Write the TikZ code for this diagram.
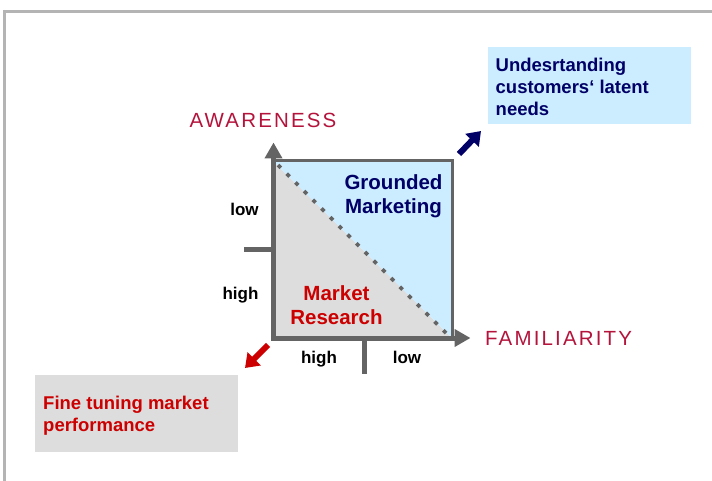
\documentclass[tikz,border=0pt]{standalone}
\usepackage{fontspec}
\setmainfont{Liberation Sans}
\usetikzlibrary{arrows.meta}
\definecolor{framegray}{RGB}{180,180,180}
\definecolor{axisgray}{RGB}{100,100,100}
\definecolor{navy}{RGB}{0,0,102}
\definecolor{mred}{RGB}{204,0,0}
\definecolor{crimson}{RGB}{180,20,60}
\definecolor{lblue}{RGB}{204,236,255}
\definecolor{lgray}{RGB}{221,221,221}
\tikzset{
  axis/.style={draw=axisgray, line width=5pt, -{Triangle[length=16pt,width=17pt]}},
  tick/.style={draw=axisgray, line width=5pt},
  edge/.style={draw=axisgray, line width=3pt},
  axlabel/.style={text=crimson, font=\fontsize{20.5}{22}\selectfont\addfontfeature{LetterSpace=10.5}, inner sep=0pt},
  lvl/.style={font=\bfseries\fontsize{17}{20}\selectfont, inner sep=0pt},
  zone/.style={font=\bfseries\fontsize{20.5}{24.5}\selectfont, align=center, inner sep=0pt},
  box/.style={font=\bfseries\fontsize{18.5}{22}\selectfont, align=left, anchor=north west, inner sep=0pt},
  fatarrow/.style={line width=6pt, -{Triangle[length=13pt,width=18pt]}},
}
\begin{document}
\begin{tikzpicture}[x=1pt,y=-1pt]
\useasboundingbox (0,0) rectangle (712,481);
% frame
\draw[framegray, line width=2.5pt] (4.3,481) -- (4.3,11.3) -- (712,11.3);
% square regions
\fill[lgray] (273,161) -- (452,338) -- (273,338) -- cycle;
\fill[lblue] (273,161) -- (452,161) -- (452,338) -- cycle;
\draw[axisgray, line width=3.8pt, dash pattern=on 4pt off 8.3pt] (278,165) -- (450,337);
\draw[edge] (272,161) -- (452,161) -- (452,339);
% axes
\coordinate (ytip) at (273.5,142.5);
\coordinate (xtip) at (470.5,338);
\coordinate (ybase) at (273.5,340.5);
\coordinate (xbase) at (271,338);
\draw[axis] (ybase) -- (ytip);
\draw[axis] (xbase) -- (xtip);
% ticks
\coordinate (lt1) at (244,249);
\coordinate (lt2) at (273,249);
\draw[tick] (lt1) -- (lt2);
\coordinate (bt1) at (364,338);
\coordinate (bt2) at (364,374);
\draw[tick] (bt1) -- (bt2);
% axis labels
\node[axlabel, anchor=base west] (aw) at (189.5,127.5) {AWARENESS};
\node[axlabel, anchor=base west] (fam) at (485,345) {FAMILIARITY};
% level labels
\node[lvl, anchor=base] (low1) at (244.5,215) {low};
\node[lvl, anchor=base] (high1) at (240.5,299) {high};
\node[lvl, anchor=base] (high2) at (319,363) {high};
\node[lvl, anchor=base] (low2) at (407,363) {low};
% zones
\node[zone, text=navy] (gm) at (393.5,196) {Grounded\\Marketing};
\node[zone, text=mred] (mr) at (336.5,305) {Market\\Research};
% boxes
\node[fill=lblue, minimum width=203pt, minimum height=77pt, anchor=north west, inner sep=0pt] (ub) at (488,47) {};
\node[box, text=navy] (ubt) at (495.5,57.5) {Undesrtanding\\customers‘ latent\\needs};
\node[fill=lgray, minimum width=203pt, minimum height=77pt, anchor=north west, inner sep=0pt] (fb) at (35,375) {};
\node[box, text=mred] (fbt) at (43,395.5) {Fine tuning market\\performance};
% arrows
\coordinate (na1) at (459,154);
\coordinate (na2) at (481,131);
\draw[fatarrow, navy] (na1) -- (na2);
\coordinate (ra1) at (268,345);
\coordinate (ra2) at (245,368);
\draw[fatarrow, mred] (ra1) -- (ra2);
\end{tikzpicture}
\end{document}
